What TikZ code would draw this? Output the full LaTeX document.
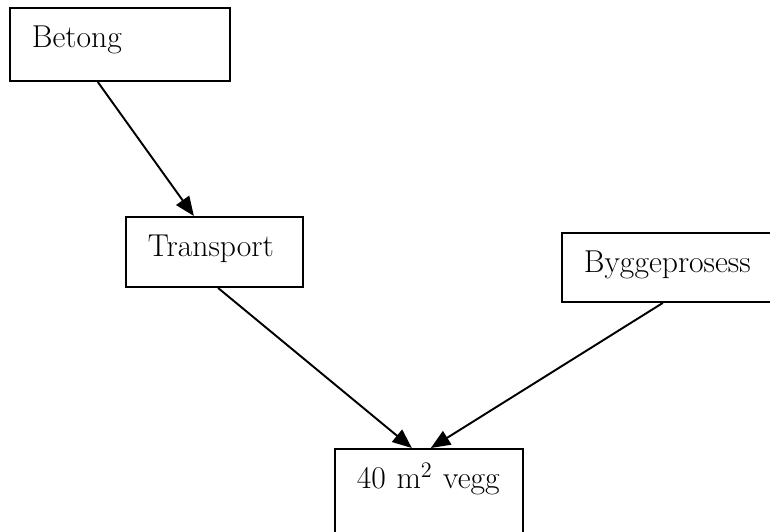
\documentclass[tikz,border=0pt]{standalone}
\usepackage{tikz}
\usetikzlibrary{arrows.meta,calc}

\begin{document}
\begin{tikzpicture}[
    % GLOBAL CFG
    x=0.02cm, y=-0.02cm,
    font=\fontsize{18}{21}\selectfont,
    >={Triangle[length=11pt,width=9pt]},
    % Styles
    box/.style 2 args={% For the text boxes: text width, text depth
        rectangle,
        draw,
        line width=1.1pt,
        anchor=north west,
        align=left,
        inner xsep=0.44cm,
        inner ysep=0.4cm,
        text height=0.4cm,
        text width=#1,
        text depth=#2,
        },
    link/.style={% For the arrows
        ->,
        line width=1.1pt,
        },
    ]

    % Page size
    \useasboundingbox (0,0) rectangle (770,531);
    \clip (0,0) rectangle (770,531);

    % Draw the boxes
    \node [box={3.52cm}{0.26cm}] (betong) at (9,7) {Betong};
    \node [box={2.66cm}{0.2cm}] (transport) at (125,216) {Transport};
    \node [box={3.72cm}{0.18cm}] (bygg) at (561,232) {Byggeprosess};
    \node [box={2.88cm}{1cm}] (vegg) at (334,448) {40 m\textsuperscript{2} vegg};

    % Drawing arrows
    \draw [link] ($(betong.south west)!0.4!(betong.south east)$) -- ($(transport.north west)!0.385!(transport.north east)$);
    \draw [link] ($(transport.south west)!0.52!(transport.south east)$) -- ($(vegg.north west)!0.41!(vegg.north east)$);
    \draw [link] ($(bygg.south west)!0.439!(bygg.south east)$) -- ($(vegg.north west)!0.51!(vegg.north east)$);

\end{tikzpicture}
\end{document}
